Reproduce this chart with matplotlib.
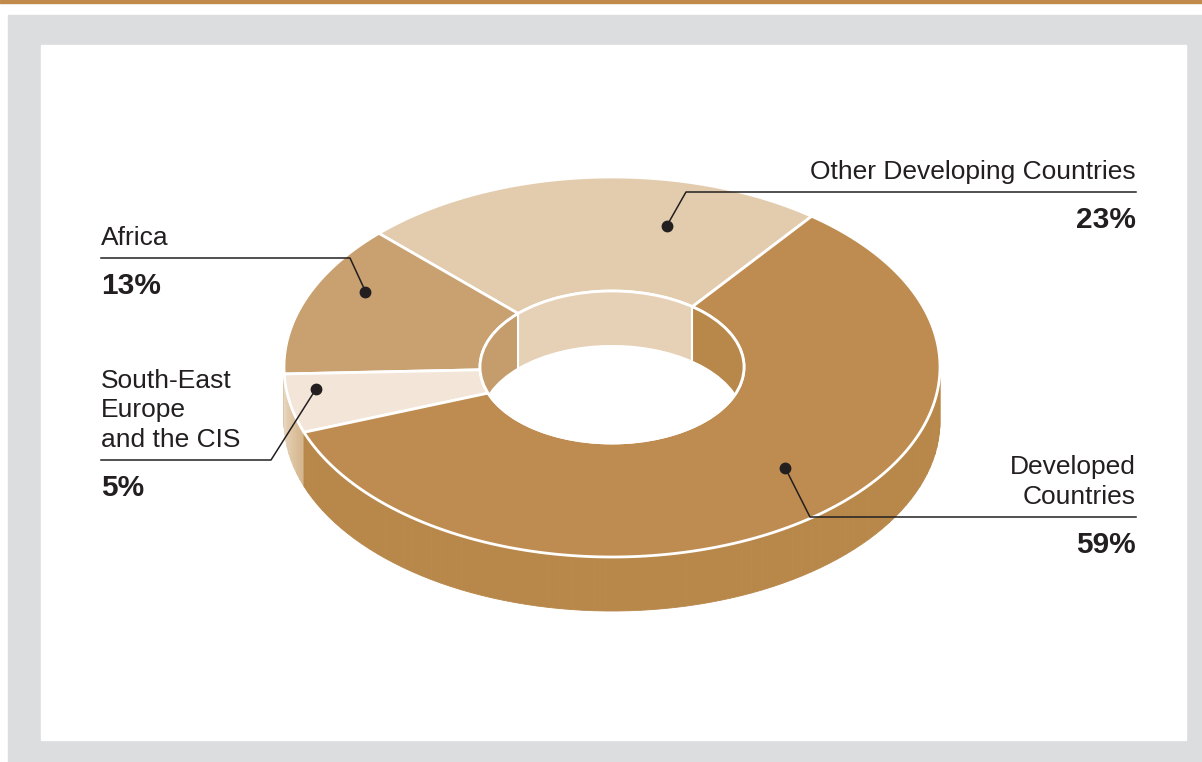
import numpy as np
import matplotlib.pyplot as plt
from matplotlib.patches import Polygon, Rectangle, Ellipse
from matplotlib.colors import to_rgb

# datos del grafico
regiones = ["Other Developing Countries", "Africa",
            "South-East\nEurope\nand the CIS", "Developed\nCountries"]
porcentajes = [23, 13, 5, 59]
etiquetas_pct = ["23%", "13%", "5%", "59%"]

# colores de cada porcion: cara superior y pared lateral (inicio -> final del degradado)
colores_top = ["#E3CCAE", "#C9A06F", "#F3E6D9", "#BE8C50"]
colores_lado = [("#E6D1B7", "#E6D1B7"), ("#C59C6B", "#C59C6B"),
                ("#EBDAC4", "#D6B890"), ("#B8874A", "#B8874A")]

# geometria de la dona en pixeles
cx, cy = 612, 367
a_ext, b_ext = 328, 190
a_int, b_int = 132, 76
prof = 54
angulo_inicio = 52.5

# posicion de los puntos de cada etiqueta (fraccion del angulo de la porcion, fraccion del radio)
punto_frac = [(0.30, 0.76), (0.36, 0.85), (0.29, 0.91), (0.54, 0.75)]
# codo de la linea guia, final de la linea horizontal y alineacion
codos = [(686, 192), (350, 258), (271, 460), (810, 517)]
fin_linea = [1136, 101, 101, 1136]
alin = ["right", "left", "left", "right"]

plt.rcParams["font.family"] = ["Liberation Sans", "DejaVu Sans"]
texto_color = "#231F20"


def arco(a, b, t0, t1, dy=0, n=120):
    t = np.radians(np.linspace(t0, t1, n))
    return np.column_stack([cx + a * np.cos(t), cy - b * np.sin(t) + dy])


def recorte(t0, t1, lo, hi):
    #intersecta el rango [t0, t1] con [lo, hi] probando desplazamientos de 360
    tramos = []
    for k in (-360, 0, 360):
        s, e = max(t0 + k, lo), min(t1 + k, hi)
        if e > s:
            tramos.append((s, e))
    return tramos


fig = plt.figure(figsize=(12.02, 7.62), dpi=100)
ax = fig.add_axes([0, 0, 1, 1])
ax.set_xlim(0, 1202)
ax.set_ylim(762, 0)
ax.axis("off")

# marco: franja superior, panel gris y caja blanca
ax.add_patch(Rectangle((0, 0), 1202, 3, color="#C08A4A", zorder=0))
ax.add_patch(Rectangle((8, 15), 1194, 747, color="#DCDDDF", zorder=0))
ax.add_patch(Rectangle((41, 45), 1145, 695, color="white", zorder=0))

# angulos de cada porcion
fracs = np.array(porcentajes) / sum(porcentajes) * 360
inicios = angulo_inicio + np.concatenate([[0], np.cumsum(fracs)[:-1]])
finales = inicios + fracs

# paredes exteriores (solo la mitad de adelante), en tiras para el degradado
for t0, t1, (c0, c1) in zip(inicios, finales, colores_lado):
    for s, e in recorte(t0, t1, 180, 360):
        bordes = np.linspace(s, e, max(2, int((e - s) / 2) + 1))
        for k in range(len(bordes) - 1):
            f = k / max(1, len(bordes) - 2)
            c = (1 - f) * np.array(to_rgb(c0)) + f * np.array(to_rgb(c1))
            arriba = arco(a_ext, b_ext, bordes[k], bordes[k + 1], n=10)
            abajo = arco(a_ext, b_ext, bordes[k + 1], bordes[k], dy=prof, n=10)
            ax.add_patch(Polygon(np.vstack([arriba, abajo]), closed=True,
                                 facecolor=c, edgecolor=c, lw=0.6, zorder=1))

# caras superiores
for t0, t1, c in zip(inicios, finales, colores_top):
    ext = arco(a_ext, b_ext, t0, t1, n=200)
    inn = arco(a_int, b_int, t1, t0, n=200)
    ax.add_patch(Polygon(np.vstack([ext, inn]), closed=True,
                         facecolor=c, edgecolor="white", lw=2, zorder=2))

# paredes interiores del agujero (solo la mitad de atras), recortadas por el borde
borde = Ellipse((cx, cy), 2 * a_int, 2 * b_int, transform=ax.transData)
for t0, t1, (c, _) in zip(inicios, finales, colores_lado):
    for s, e in recorte(t0, t1, 0, 180):
        arriba = arco(a_int, b_int, s, e)
        abajo = arco(a_int, b_int, e, s, dy=prof)
        pared = Polygon(np.vstack([arriba, abajo]), closed=True,
                        facecolor=c, edgecolor=c, lw=0.5, zorder=3)
        ax.add_patch(pared)
        pared.set_clip_path(borde)

# lineas blancas entre porciones dentro del agujero
for t in inicios:
    t = t % 360
    if 0 < t < 180:
        x = cx + a_int * np.cos(np.radians(t))
        y = cy - b_int * np.sin(np.radians(t))
        ax.plot([x, x], [y, y + prof], color="white", lw=1.5, zorder=3.5)

# fondo del agujero, recortado por el borde interior
fondo = Ellipse((cx, cy + prof), 2 * a_int, 2 * b_int, facecolor="white",
                edgecolor="none", zorder=4)
ax.add_patch(fondo)
fondo.set_clip_path(borde)
ax.add_patch(Ellipse((cx, cy), 2 * a_int, 2 * b_int, facecolor="none",
                     edgecolor="white", lw=2, zorder=5))

# etiquetas con linea guia y punto
for i in range(len(regiones)):
    fa, fr = punto_frac[i]
    ang = np.radians(inicios[i] + fa * fracs[i])
    px = cx + fr * a_ext * np.cos(ang)
    py = cy - fr * b_ext * np.sin(ang)
    ex, ey = codos[i]
    ax.plot([px, ex, fin_linea[i]], [py, ey, ey], color=texto_color, lw=1.1, zorder=6)
    ax.plot(px, py, "o", color=texto_color, ms=7.5, zorder=7)
    ax.text(fin_linea[i], ey - 8, regiones[i], ha=alin[i], va="bottom",
            fontsize=19, color=texto_color, linespacing=1.3,
            multialignment=alin[i], zorder=7)
    ax.text(fin_linea[i], ey + 14, etiquetas_pct[i], ha=alin[i], va="top",
            fontsize=21.5, fontweight="bold", color=texto_color, zorder=7)

plt.savefig("out.png", dpi=100)
plt.close()
